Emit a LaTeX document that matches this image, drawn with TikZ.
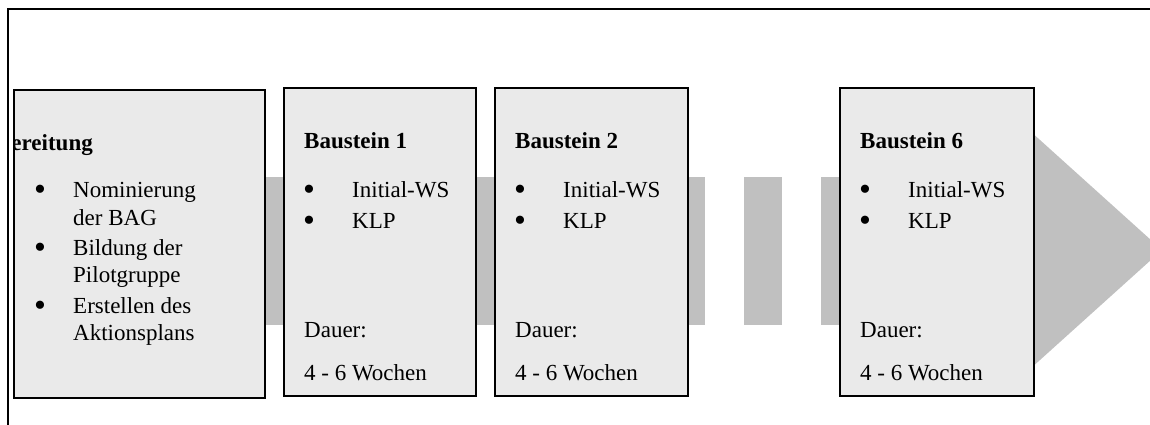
\documentclass[tikz,border=0pt]{standalone}
\usepackage{fontspec}
\setmainfont{Liberation Serif}
\usetikzlibrary{calc}

\definecolor{boxgray}{HTML}{EAEAEA}
\definecolor{bandgray}{HTML}{C0C0C0}

\newcommand{\bul}{{\fontsize{34}{34}\selectfont\textbullet}}

\tikzset{
  stage/.style={draw=black, line width=2.2pt, fill=boxgray, rectangle,
                anchor=north west, inner sep=0pt,
                minimum width=193pt, minimum height=308pt},
  txt/.style={anchor=base west, inner sep=0pt, font=\fontsize{23}{27}\selectfont},
  headline/.style={txt, font=\fontsize{23}{27}\selectfont\bfseries},
  dot/.style={anchor=base, inner sep=0pt, yshift=-3.5pt},
}

\begin{document}
\begin{tikzpicture}[x=1pt, y=-1pt]

  \clip (0,0) rectangle (1150,425);
  \fill[white] (0,0) rectangle (1150,425);

  % frame (only top and left edge)
  \draw[line width=2pt] (8,430) -- (8,9) -- (1160,9);

  % grey band with arrow head
  \fill[bandgray] (250,177) rectangle (705,325);
  \fill[bandgray] (744,177) rectangle (782,325);
  \fill[bandgray] (821,177) rectangle (1040,325);
  \fill[bandgray] (1020,122) -- (1162,250) -- (1020,378) -- cycle;

  % stages
  \node[stage, minimum width=251pt] (vorb) at (13,89)  {};
  \node[stage, minimum width=192pt] (bs1)  at (283,87) {};
  \node[stage]                      (bs2)  at (494,87) {};
  \node[stage, minimum width=194pt] (bs6)  at (839,87) {};

  % preparation, title runs out of the box on the left
  \begin{scope}
    \clip ($(vorb.north west)+(1,1)$) rectangle (vorb.south east);
    \node[headline, anchor=base east] (vorbT) at ($(vorb.north west)+(80,61)$) {Vorbereitung};
  \end{scope}
  \node[dot] (vb1) at ($(vorb.north west)+(27,108)$) {\bul};
  \node[txt] (vt1) at ($(vorb.north west)+(60,108)$) {Nominierung};
  \node[txt] (vt2) at ($(vorb.north west)+(60,136)$) {der BAG};
  \node[dot] (vb2) at ($(vorb.north west)+(27,166)$) {\bul};
  \node[txt] (vt3) at ($(vorb.north west)+(60,166)$) {Bildung der};
  \node[txt] (vt4) at ($(vorb.north west)+(60,193)$) {Pilotgruppe};
  \node[dot] (vb3) at ($(vorb.north west)+(27,224)$) {\bul};
  \node[txt] (vt5) at ($(vorb.north west)+(60,224)$) {Erstellen des};
  \node[txt] (vt6) at ($(vorb.north west)+(60,251)$) {Aktionsplans};

  % modules
  \foreach \b/\n in {bs1/1, bs2/2, bs6/6}{
    \node[headline] (\b T) at ($(\b.north west)+(21,61)$)  {Baustein \n};
    \node[dot]      (\b a) at ($(\b.north west)+(26,110)$) {\bul};
    \node[txt]      (\b A) at ($(\b.north west)+(69,110)$) {Initial-WS};
    \node[dot]      (\b b) at ($(\b.north west)+(26,141)$) {\bul};
    \node[txt]      (\b B) at ($(\b.north west)+(69,141)$) {KLP};
    \node[txt]      (\b D) at ($(\b.north west)+(21,250)$) {Dauer:};
    \node[txt]      (\b W) at ($(\b.north west)+(21,293)$) {4 - 6 Wochen};
  }

\end{tikzpicture}
\end{document}
